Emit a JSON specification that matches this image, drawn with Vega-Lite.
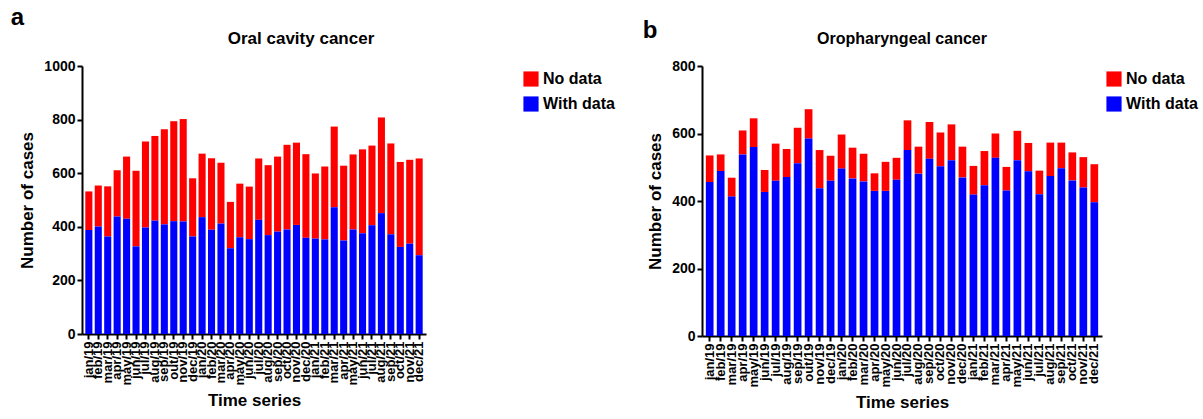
{
 "$schema": "https://vega.github.io/schema/vega-lite/v6.json",
 "background": "white",
 "padding": {"left": 10, "top": 6, "right": 5, "bottom": 5},
 "spacing": 22,
 "config": {
  "font": "Liberation Sans",
  "view": {"stroke": null},
  "axis": {"domainColor": "black", "domainWidth": 2, "tickColor": "black", "tickWidth": 2, "tickSize": 5, "labelFont": "Liberation Sans", "labelFontWeight": "bold", "labelColor": "black", "titleFont": "Liberation Sans", "titleFontWeight": "bold", "titleFontSize": 17, "titleColor": "black", "grid": false},
  "legend": {"labelFont": "Liberation Sans", "labelFontWeight": "bold", "labelFontSize": 16, "labelColor": "black", "symbolType": "square", "symbolSize": 230, "symbolStrokeWidth": 0, "symbolOpacity": 1, "rowPadding": 9, "padding": 5},
  "title": {"font": "Liberation Sans", "fontWeight": "bold", "color": "black"}
 },
 "datasets": {
  "oral": [
   {"month": "jan/19", "No data": 144, "With data": 388},
   {"month": "feb/19", "No data": 153, "With data": 401},
   {"month": "mar/19", "No data": 187, "With data": 364},
   {"month": "apr/19", "No data": 173, "With data": 438},
   {"month": "may/19", "No data": 232, "With data": 430},
   {"month": "jun/19", "No data": 282, "With data": 327},
   {"month": "jul/19", "No data": 321, "With data": 397},
   {"month": "aug/19", "No data": 316, "With data": 423},
   {"month": "sep/19", "No data": 355, "With data": 409},
   {"month": "out/19", "No data": 373, "With data": 421},
   {"month": "nov/19", "No data": 382, "With data": 420},
   {"month": "dec/19", "No data": 217, "With data": 364},
   {"month": "jan/20", "No data": 237, "With data": 436},
   {"month": "feb/20", "No data": 267, "With data": 389},
   {"month": "mar/20", "No data": 227, "With data": 412},
   {"month": "apr/20", "No data": 173, "With data": 320},
   {"month": "may/20", "No data": 200, "With data": 361},
   {"month": "jun/20", "No data": 196, "With data": 354},
   {"month": "jul/20", "No data": 229, "With data": 426},
   {"month": "aug/20", "No data": 261, "With data": 369},
   {"month": "sep/20", "No data": 280, "With data": 382},
   {"month": "oct/20", "No data": 316, "With data": 390},
   {"month": "nov/20", "No data": 307, "With data": 407},
   {"month": "dec/20", "No data": 312, "With data": 359},
   {"month": "jan/21", "No data": 243, "With data": 356},
   {"month": "feb/21", "No data": 272, "With data": 353},
   {"month": "mar/21", "No data": 301, "With data": 473},
   {"month": "apr/21", "No data": 279, "With data": 349},
   {"month": "may/21", "No data": 280, "With data": 390},
   {"month": "jun/21", "No data": 313, "With data": 376},
   {"month": "jul/21", "No data": 297, "With data": 406},
   {"month": "aug/21", "No data": 357, "With data": 451},
   {"month": "sep/21", "No data": 339, "With data": 372},
   {"month": "oct/21", "No data": 317, "With data": 325},
   {"month": "nov/21", "No data": 313, "With data": 337},
   {"month": "dec/21", "No data": 361, "With data": 294}
  ],
  "oro": [
   {"month": "jan/19", "No data": 79, "With data": 456},
   {"month": "feb/19", "No data": 49, "With data": 489},
   {"month": "mar/19", "No data": 56, "With data": 413},
   {"month": "apr/19", "No data": 71, "With data": 538},
   {"month": "may/19", "No data": 85, "With data": 560},
   {"month": "jun/19", "No data": 65, "With data": 427},
   {"month": "jul/19", "No data": 110, "With data": 460},
   {"month": "aug/19", "No data": 83, "With data": 471},
   {"month": "sep/19", "No data": 105, "With data": 512},
   {"month": "out/19", "No data": 87, "With data": 585},
   {"month": "nov/19", "No data": 113, "With data": 438},
   {"month": "dec/19", "No data": 74, "With data": 460},
   {"month": "jan/20", "No data": 101, "With data": 496},
   {"month": "feb/20", "No data": 91, "With data": 467},
   {"month": "mar/20", "No data": 82, "With data": 458},
   {"month": "apr/20", "No data": 52, "With data": 430},
   {"month": "may/20", "No data": 86, "With data": 430},
   {"month": "jun/20", "No data": 65, "With data": 463},
   {"month": "jul/20", "No data": 88, "With data": 551},
   {"month": "aug/20", "No data": 80, "With data": 481},
   {"month": "sep/20", "No data": 109, "With data": 525},
   {"month": "oct/20", "No data": 100, "With data": 503},
   {"month": "nov/20", "No data": 106, "With data": 521},
   {"month": "dec/20", "No data": 91, "With data": 470},
   {"month": "jan/21", "No data": 85, "With data": 419},
   {"month": "feb/21", "No data": 101, "With data": 447},
   {"month": "mar/21", "No data": 72, "With data": 528},
   {"month": "apr/21", "No data": 70, "With data": 431},
   {"month": "may/21", "No data": 87, "With data": 521},
   {"month": "jun/21", "No data": 84, "With data": 488},
   {"month": "jul/21", "No data": 70, "With data": 420},
   {"month": "aug/21", "No data": 99, "With data": 474},
   {"month": "sep/21", "No data": 76, "With data": 497},
   {"month": "oct/21", "No data": 83, "With data": 461},
   {"month": "nov/21", "No data": 90, "With data": 440},
   {"month": "dec/21", "No data": 113, "With data": 396}
  ]
 },
 "hconcat": [
  {
   "title": {"text": "a", "anchor": "start", "fontSize": 24, "dx": -8, "offset": 0},
   "vconcat": [
    {
     "data": {"name": "oral"},
     "transform": [{"fold": ["No data", "With data"], "as": ["series", "value"]}],
     "title": {"text": "Oral cavity cancer", "fontSize": 17, "anchor": "middle", "offset": 11, "dx": 47},
     "width": 344,
     "height": 268,
     "mark": {"type": "bar"},
     "encoding": {
      "x": {"field": "month", "type": "ordinal", "sort": null, "scale": {"paddingInner": 0.25, "paddingOuter": 0.35},
            "axis": {"title": "Time series", "labelAngle": -90, "labelFontSize": 13, "labelOverlap": false, "labelPadding": 2, "titlePadding": 7}},
      "y": {"field": "value", "type": "quantitative", "stack": "zero", "scale": {"domain": [0, 1000], "nice": false},
            "axis": {"title": "Number of cases", "values": [0, 200, 400, 600, 800, 1000], "format": "d", "labelFontSize": 14, "labelPadding": 2, "titlePadding": 7}},
      "color": {"field": "series", "type": "nominal", "scale": {"domain": ["No data", "With data"], "range": ["#ff0000", "#0000ff"]},
                "legend": {"title": null, "orient": "right", "offset": 92}},
      "order": {"field": "series", "sort": "descending"}
     }
    }
   ]
  },
  {
   "title": {"text": "b", "anchor": "start", "fontSize": 24, "dx": -4, "offset": 0, "dy": 12},
   "vconcat": [
    {
     "data": {"name": "oro"},
     "transform": [{"fold": ["No data", "With data"], "as": ["series", "value"]}],
     "title": {"text": "Oropharyngeal cancer", "fontSize": 16, "anchor": "middle", "offset": 18, "dy": 6},
     "width": 400,
     "height": 270,
     "mark": {"type": "bar"},
     "encoding": {
      "x": {"field": "month", "type": "ordinal", "sort": null, "scale": {"paddingInner": 0.3, "paddingOuter": 0.35},
            "axis": {"title": "Time series", "labelAngle": -90, "labelFontSize": 13, "labelOverlap": false, "labelPadding": 2, "titlePadding": 7}},
      "y": {"field": "value", "type": "quantitative", "stack": "zero", "scale": {"domain": [0, 800], "nice": false},
            "axis": {"title": "Number of cases", "values": [0, 200, 400, 600, 800], "format": "d", "labelFontSize": 14, "labelPadding": 2, "titlePadding": 7}},
      "color": {"field": "series", "type": "nominal", "scale": {"domain": ["No data", "With data"], "range": ["#ff0000", "#0000ff"]},
                "legend": {"title": null, "orient": "right", "offset": -1}},
      "order": {"field": "series", "sort": "descending"}
     }
    }
   ]
  }
 ],
 "resolve": {"scale": {"color": "independent", "y": "independent", "x": "independent"}, "legend": {"color": "independent"}}
}
